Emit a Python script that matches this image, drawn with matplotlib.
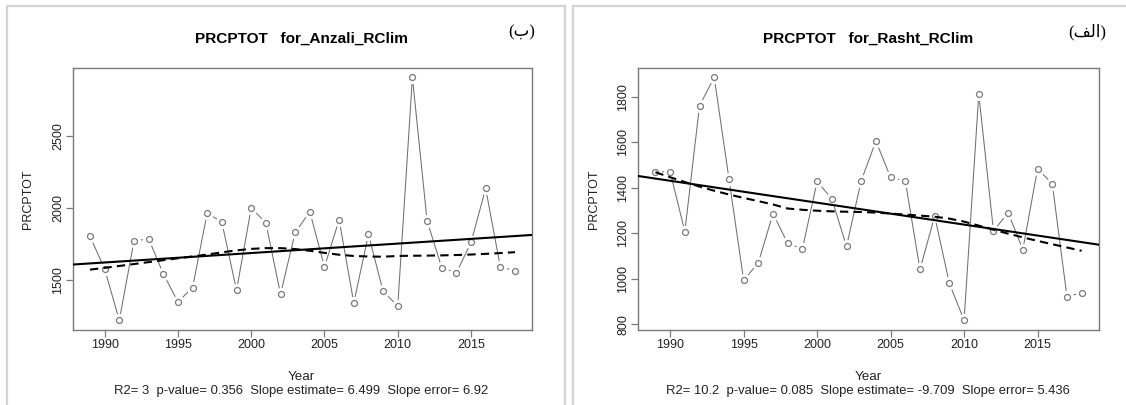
import numpy as np
import matplotlib
matplotlib.use("Agg")
import matplotlib.pyplot as plt
from matplotlib.lines import Line2D

years = np.arange(1989, 2019)
anzali = [1805, 1579, 1225, 1772, 1788, 1547, 1352, 1451, 1968, 1901,
          1432, 2000, 1899, 1405, 1832, 1975, 1593, 1920, 1345, 1818,
          1425, 1324, 2903, 1913, 1589, 1552, 1763, 2136, 1593, 1568]
rasht = [1471, 1471, 1207, 1762, 1886, 1441, 993, 1070, 1287, 1155,
         1132, 1428, 1352, 1142, 1431, 1606, 1446, 1431, 1041, 1276,
         979, 817, 1812, 1211, 1290, 1128, 1484, 1418, 921, 938]

xticks = [1990, 1995, 2000, 2005, 2010, 2015]
anzali_yticks = [1500, 2000, 2500]
rasht_yticks = [800, 1000, 1200, 1400, 1600, 1800]

titles = ["PRCPTOT   for_Anzali_RClim", "PRCPTOT   for_Rasht_RClim"]
stats = ["R2= 3  p-value= 0.356  Slope estimate= 6.499  Slope error= 6.92",
         "R2= 10.2  p-value= 0.085  Slope estimate= -9.709  Slope error= 5.436"]
# panel letters, written in visual order (matplotlib does no Arabic shaping)
letters = ["(\u0628)", "(\ufed2\ufedf\ufe8d)"]


def lowess(x, y, f=2/3, it=3):
    # same steps as R's lowess()
    x = np.asarray(x, float)
    y = np.asarray(y, float)
    n = len(x)
    ns = max(min(int(f * n + 1e-7), n), 2)
    rw = np.ones(n)
    ys = np.zeros(n)
    for step in range(it + 1):
        nleft, nright = 0, ns - 1
        for i in range(n):
            while nright < n - 1 and x[i] - x[nleft] > x[nright + 1] - x[i]:
                nleft += 1
                nright += 1
            h = max(x[i] - x[nleft], x[nright] - x[i])
            r = np.abs(x - x[i])
            w = np.where(r <= 0.999 * h, (1 - (r / h) ** 3) ** 3, 0.0)
            w[r <= 0.001 * h] = 1.0
            w = w * rw
            w = w / w.sum()
            a = np.sum(w * x)
            b = x[i] - a
            c = np.sum(w * (x - a) ** 2)
            if np.sqrt(c) > 0.001 * (x[-1] - x[0]):
                w = w * (b / c * (x - a) + 1)
            ys[i] = np.sum(w * y)
        res = np.abs(y - ys)
        cmad = 6 * np.median(res)
        rw = np.where(res <= 0.999 * cmad, (1 - (res / cmad) ** 2) ** 2, 0.0)
        rw[res <= 0.001 * cmad] = 1.0
    return ys


W, H = 1126, 405
fig = plt.figure(figsize=(W / 100, H / 100), dpi=100)
txt = "#222222"
plt.rcParams["font.family"] = ["Liberation Sans", "DejaVu Sans"]


def fx(px):
    return px / W


def fy(py):
    return 1 - py / H


# light grey frames around the two panels
fc = "#d4d4d4"
for seg in [((7.5, 7.5), (6, 405)), ((7.5, 565), (6, 6)), ((565, 565), (6, 405)),
            ((573, 573), (6, 405)), ((573, 1126), (6, 6))]:
    fig.add_artist(Line2D([fx(v) for v in seg[0]], [fy(v) for v in seg[1]],
                          color=fc, lw=1.6))

panels = [(73, 532, anzali, anzali_yticks, 301.6, 522),
          (638.4, 1098.7, rasht, rasht_yticks, 868, 1087)]

for k, (x0, x1, vals, yt, cx, lx) in enumerate(panels):
    ax = fig.add_axes([fx(x0), fy(330), fx(x1 - x0), (330 - 67.7) / H])
    vals = np.array(vals, float)
    pad = 0.04 * (vals.max() - vals.min())
    ax.set_xlim(1989 - 0.04 * 29, 2018 + 0.04 * 29)
    ax.set_ylim(vals.min() - pad, vals.max() + pad)

    ax.plot(years, vals, color="#707070", lw=0.75, zorder=1)
    ax.plot(years, vals, "o", ms=9.5, mfc="white", mec="none", zorder=2)
    ax.plot(years, vals, "o", ms=4.3, mfc="white", mec="#7a7a7a", mew=0.9, zorder=3)

    slope, inter = np.polyfit(years, vals, 1)
    xl = np.array(ax.get_xlim())
    ax.plot(xl, inter + slope * xl, color="black", lw=1.5, zorder=4)
    ax.plot(years, lowess(years, vals), color="black", lw=1.5,
            dashes=(4, 2.5), zorder=4)

    ax.set_xticks(xticks)
    ax.set_yticks(yt)
    for s in ax.spines.values():
        s.set_color("#7a7a7a")
        s.set_linewidth(1.0)
    ax.tick_params(length=5, width=0.9, color="#7a7a7a", labelsize=9,
                   labelcolor=txt, pad=1.5)
    for lab in ax.get_yticklabels():
        lab.set_rotation(90)
        lab.set_va("center")

    ax.text(-0.097, 0.5, "PRCPTOT", transform=ax.transAxes, rotation=90,
            ha="center", va="center", fontsize=9, color=txt)
    fig.text(fx(cx), fy(376.7), "Year", ha="center", va="center",
             fontsize=9.6, color=txt)
    fig.text(fx(cx), fy(390.7), stats[k], ha="center", va="center",
             fontsize=9.4, color=txt)
    fig.text(fx(cx), fy(38.7), titles[k], ha="center", va="center",
             fontsize=11.1, fontweight="bold", color="black")
    fig.text(fx(lx), fy(32), letters[k], ha="center", va="center",
             fontsize=12, color="black",
             family=["Liberation Serif", "DejaVu Sans"])

fig.savefig("out.png", dpi=100)
